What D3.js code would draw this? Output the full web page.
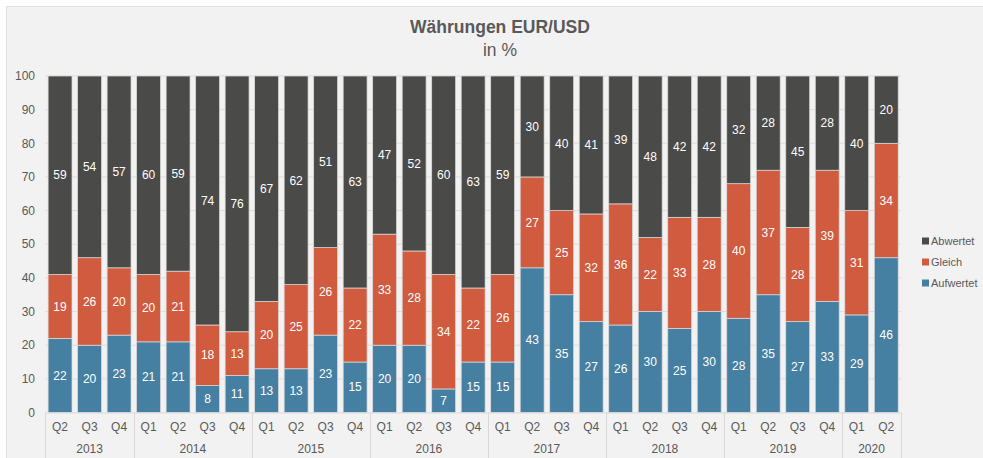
<!DOCTYPE html>
<html>
<head>
<meta charset="utf-8">
<script src="https://cdn.jsdelivr.net/npm/d3@7"></script>
<style>
  html, body { margin: 0; padding: 0; background: #fff; }
  svg { display: block; font-family: "Liberation Sans", Arial, sans-serif; }
</style>
</head>
<body>
<svg id="chart" width="983" height="458"></svg>
<script>
// quarters per bar, years grouped below
const quarters = ['Q2','Q3','Q4',
  'Q1','Q2','Q3','Q4', 'Q1','Q2','Q3','Q4', 'Q1','Q2','Q3','Q4',
  'Q1','Q2','Q3','Q4', 'Q1','Q2','Q3','Q4', 'Q1','Q2','Q3','Q4',
  'Q1','Q2'];
const years = ['2013','2014','2015','2016','2017','2018','2019','2020'];
const yearCounts = [3, 4, 4, 4, 4, 4, 4, 2];

const aufwertet = [22,20,23, 21,21,8,11, 13,13,23,15, 20,20,7,15, 15,43,35,27, 26,30,25,30, 28,35,27,33, 29,46];
const gleich    = [19,26,20, 20,21,18,13, 20,25,26,22, 33,28,34,22, 26,27,25,32, 36,22,33,28, 40,37,28,39, 31,34];
const abwertet  = [59,54,57, 60,59,74,76, 67,62,51,63, 47,52,60,63, 59,30,40,41, 39,48,42,42, 32,28,45,28, 40,20];

const seriesNames = ['Aufwertet', 'Gleich', 'Abwertet'];
const colors = { Aufwertet: '#4580a2', Gleich: '#d05b3f', Abwertet: '#4a4a48' };

const rows = quarters.map((q, i) => ({
  i, Aufwertet: aufwertet[i], Gleich: gleich[i], Abwertet: abwertet[i]
}));

const svg = d3.select('#chart');

// chart area background
svg.append('rect')
  .attr('x', 6.5).attr('y', 6.5).attr('width', 990).attr('height', 470)
  .attr('fill', '#f2f2f2').attr('stroke', '#e0e0e0');

const plotL = 45.3, plotR = 901, plotT = 76, plotB = 412.5;

const x = d3.scaleBand()
  .domain(d3.range(quarters.length))
  .range([plotL, plotR])
  .paddingInner(0.19)
  .paddingOuter(0.095);

const y = d3.scaleLinear().domain([0, 100]).range([plotB, plotT]).clamp(true);

// gridlines + y labels
const ticks = d3.range(0, 101, 10);
svg.append('g').selectAll('line')
  .data(ticks.filter(t => t > 0))
  .join('line')
  .attr('x1', plotL).attr('x2', plotR)
  .attr('y1', d => y(d)).attr('y2', d => y(d))
  .attr('stroke', '#dcdcdc').attr('stroke-width', 1);

svg.append('g').selectAll('text')
  .data(ticks)
  .join('text')
  .attr('x', 35).attr('y', d => y(d))
  .attr('dy', '0.35em')
  .attr('text-anchor', 'end')
  .attr('font-size', 12)
  .attr('fill', '#595959')
  .text(d => d);

// stacked bars
const stacked = d3.stack().keys(seriesNames)(rows);

const layers = svg.append('g').selectAll('g')
  .data(stacked)
  .join('g')
  .attr('fill', d => colors[d.key]);

layers.selectAll('rect')
  .data(d => d)
  .join('rect')
  .attr('x', d => x(d.data.i))
  .attr('width', x.bandwidth())
  .attr('y', d => y(d[1]))
  .attr('height', d => y(d[0]) - y(d[1]))
  .attr('stroke', '#d9d9d9')
  .attr('stroke-width', 0.75);

layers.selectAll('text')
  .data(d => d.map(v => ({ v, key: d.key })))
  .join('text')
  .attr('x', d => x(d.v.data.i) + x.bandwidth() / 2)
  .attr('y', d => (y(d.v[0]) + y(d.v[1])) / 2)
  .attr('dy', '0.35em')
  .attr('text-anchor', 'middle')
  .attr('font-size', 12)
  .attr('fill', '#fff')
  .text(d => d.v.data[d.key]);

// x axis line
svg.append('line')
  .attr('x1', plotL).attr('x2', plotR)
  .attr('y1', plotB + 0.5).attr('y2', plotB + 0.5)
  .attr('stroke', '#d9d9d9');

// quarter labels
svg.append('g').selectAll('text')
  .data(quarters)
  .join('text')
  .attr('x', (d, i) => x(i) + x.bandwidth() / 2)
  .attr('y', 431)
  .attr('text-anchor', 'middle')
  .attr('font-size', 12)
  .attr('fill', '#595959')
  .text(d => d);

// year groups with separators
const step = x.step();
let start = 0;
const groups = years.map((yr, k) => {
  const g = { yr, from: start, to: start + yearCounts[k] };
  start += yearCounts[k];
  return g;
});
const bounds = [0].concat(groups.map(g => g.to));

svg.append('g').selectAll('line')
  .data(bounds)
  .join('line')
  .attr('x1', d => Math.round(plotL + d * step) + 0.5)
  .attr('x2', d => Math.round(plotL + d * step) + 0.5)
  .attr('y1', plotB).attr('y2', 458)
  .attr('stroke', '#d9d9d9');

svg.append('g').selectAll('text')
  .data(groups)
  .join('text')
  .attr('x', d => plotL + (d.from + d.to) / 2 * step)
  .attr('y', 453)
  .attr('text-anchor', 'middle')
  .attr('font-size', 12)
  .attr('fill', '#595959')
  .text(d => d.yr);

// title
svg.append('text')
  .attr('x', 500).attr('y', 33)
  .attr('text-anchor', 'middle')
  .attr('font-size', 17.5).attr('font-weight', 'bold')
  .attr('fill', '#595959')
  .text('Währungen EUR/USD');
svg.append('text')
  .attr('x', 500).attr('y', 56)
  .attr('text-anchor', 'middle')
  .attr('font-size', 17.5)
  .attr('fill', '#595959')
  .text('in %');

// legend
const legend = svg.append('g').selectAll('g')
  .data(['Abwertet', 'Gleich', 'Aufwertet'])
  .join('g')
  .attr('transform', (d, i) => `translate(922,${241 + i * 21})`);
legend.append('rect')
  .attr('x', 0).attr('y', -3.5).attr('width', 7).attr('height', 7)
  .attr('fill', d => colors[d]);
legend.append('text')
  .attr('x', 9).attr('dy', '0.35em')
  .attr('font-size', 11)
  .attr('fill', '#595959')
  .text(d => d);
</script>
</body>
</html>
